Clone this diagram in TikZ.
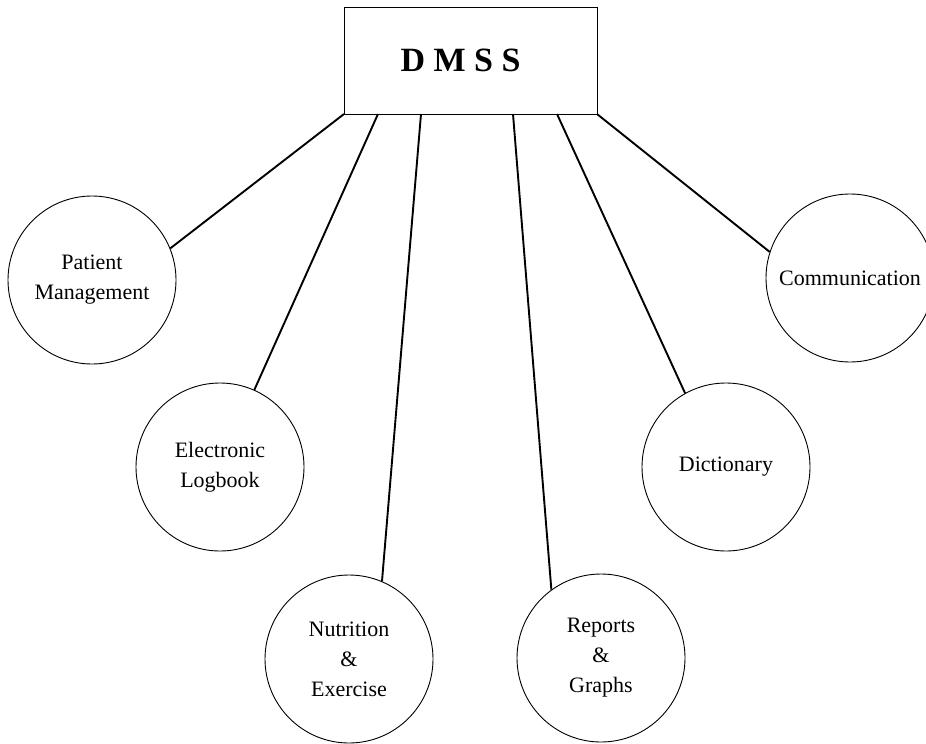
\documentclass[tikz,border=0pt]{standalone}
\usepackage{fontspec}
\setmainfont{Liberation Serif}
\begin{document}
\begin{tikzpicture}[x=1pt,y=-1pt,
  topbox/.style={draw, line width=1pt, minimum width=253pt, minimum height=107pt, inner sep=0pt, font=\fontsize{34}{40}\selectfont\bfseries},
  module/.style={draw, circle, line width=0.9pt, minimum size=168pt, inner sep=0pt, align=center, font=\fontsize{22}{30}\selectfont},
  link/.style={line width=1.9pt}]
\useasboundingbox (0,0) rectangle (926,744);
\node[topbox] (dmss) at (470.5,60.5) {D M S S\kern20pt};
\node[module] (pm) at (92,280) {Patient\\Management};
\node[module] (el) at (220,467) {Electronic\\Logbook};
\node[module] (ne) at (349,659) {Nutrition\\\&\\Exercise};
\node[module] (rg) at (601,658) {Reports\\\&\\Graphs};
\node[module] (di) at (726,467) {Dictionary};
\node[module] (co) at (850,278) {Communication};
\coordinate (s1) at (344,114);
\coordinate (s2) at (378,114);
\coordinate (s3) at (421,114);
\coordinate (s4) at (513,114);
\coordinate (s5) at (557,114);
\coordinate (s6) at (597,114);
\draw[link] (s1) -- (pm.22);
\draw[link] (s2) -- (el.66);
\draw[link] (s3) -- (ne.67);
\draw[link] (s4) -- (rg.126);
\draw[link] (s5) -- (di.119);
\draw[link] (s6) -- (co.162);
\end{tikzpicture}
\end{document}
